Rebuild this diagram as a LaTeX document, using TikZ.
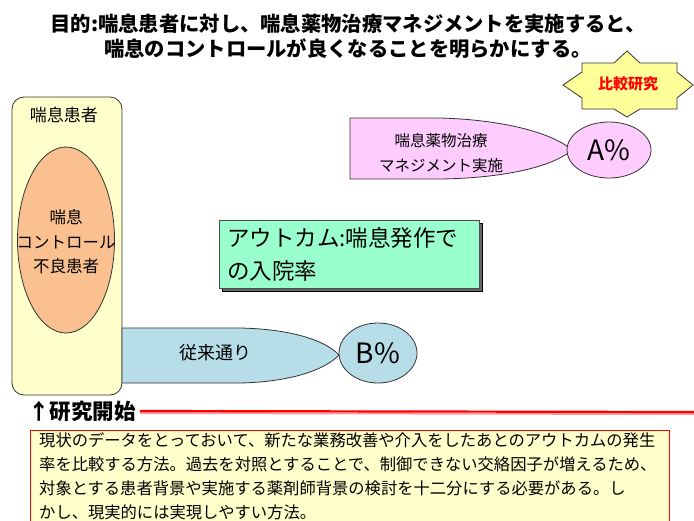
\documentclass[tikz,border=0pt]{standalone}
\usepackage{fontspec}
\setmainfont{Noto Sans CJK JP}
\usetikzlibrary{shapes.geometric}
\definecolor{pinkf}{RGB}{255,204,255}
\definecolor{bluef}{RGB}{183,222,232}
\definecolor{greenf}{RGB}{153,255,204}
\definecolor{orangef}{RGB}{250,192,143}
\definecolor{yellowf}{RGB}{255,255,204}
\definecolor{starf}{RGB}{255,255,153}
\definecolor{redl}{RGB}{255,0,0}
\tikzset{
  txt/.style={inner sep=0pt, align=center, text=black},
  outl/.style={draw=black!80, line width=0.8pt},
}
\begin{document}
\begin{tikzpicture}[x=1pt,y=-1pt]
\useasboundingbox[fill=white] (0,0) rectangle (694,520);
% title
\node[txt, font=\fontsize{20.3}{25}\selectfont\bfseries] (title) at (348,36)
  {目的:喘息患者に対し、喘息薬物治療マネジメントを実施すると、\\喘息のコントロールが良くなることを明らかにする。};
% yellow patients box
\draw[outl, fill=yellowf, rounded corners=12pt] (12,97) rectangle (122,395);
\node[txt, font=\fontsize{17}{18}\selectfont] (pt) at (64,115) {喘息患者};
% orange ellipse
\node[ellipse, outl, fill=orangef, minimum width=97pt, minimum height=186pt, inner sep=0pt] (poor) at (66,240) {};
\node[txt, font=\fontsize{16.5}{24.5}\selectfont] (poort) at (66,242) {喘息\\コントロール\\不良患者};
% pink teardrop
\draw[outl, fill=pinkf] (350,118) -- (440,118) .. controls (510,120) and (555,135) .. (572,150)
  .. controls (555,165) and (510,178) .. (440,179) -- (350,179) -- cycle;
\node[txt, font=\fontsize{15.5}{25}\selectfont] (pinkt) at (441,153) {喘息薬物治療\\マネジメント実施};
% A% ellipse
\node[ellipse, outl, fill=pinkf, minimum width=84pt, minimum height=56pt, inner sep=0pt,
  font=\fontsize{28}{30}\selectfont] (A) at (609,150) {A\%};
% star
\draw[outl, fill=starf]
  (582,63) -- (614,63) -- (627,51) -- (640,63) -- (677,63) -- (677,72) -- (693,85) -- (677,98)
  -- (677,109) -- (640,109) -- (627,117) -- (614,109) -- (582,109) -- (582,98) -- (563,85) -- (582,72) -- cycle;
\node[txt, text=redl, font=\fontsize{15}{16}\selectfont\bfseries] (cmp) at (628,84) {比較研究};
% green box
\draw[fill=black!60] (222,223) rectangle (482,291);
\draw[draw=black!70, line width=0.6pt, fill=greenf] (219,220) rectangle (479,288);
\node[anchor=north west, inner sep=0pt, align=left, font=\fontsize{22.5}{33}\selectfont] (out) at (227,227)
  {アウトカム:喘息発作で\\の入院率};
% blue teardrop
\draw[outl, fill=bluef] (122,328) -- (240,328) .. controls (290,329) and (325,340) .. (339,355)
  .. controls (325,370) and (290,382) .. (240,383) -- (122,383) -- cycle;
\node[txt, font=\fontsize{18}{20}\selectfont] (bt) at (215,353) {従来通り};
% B% ellipse
\node[ellipse, outl, fill=bluef, minimum width=78pt, minimum height=60pt, inner sep=0pt,
  font=\fontsize{28}{30}\selectfont] (B) at (378,353) {B\%};
% research start
\node[anchor=west, inner sep=0pt, font=\fontsize{21.5}{22}\selectfont\bfseries] (start) at (28,411) {↑研究開始};
\coordinate (lend) at (694,412);
\draw[draw=redl!40, line width=2pt] ([yshift=-2pt]start.east) ++(4,0) -- ([yshift=-2pt]lend);
\draw[draw=redl, line width=2.2pt] (start.east) ++(4,0) -- (lend);
% bottom text box
\fill[yellowf] (30,430) rectangle (669,521);
\draw[draw=redl, line width=1pt] (30,522) -- (30,430) -- (669,430) -- (669,522);
\node[anchor=north west, inner sep=0pt, align=left, font=\fontsize{16.3}{24}\selectfont] (desc) at (39,432)
  {現状のデータをとっておいて、新たな業務改善や介入をしたあとのアウトカムの発生\\
   率を比較する方法。過去を対照とすることで、制御できない交絡因子が増えるため、\\
   対象とする患者背景や実施する薬剤師背景の検討を十二分にする必要がある。し\\
   かし、現実的には実現しやすい方法。};
\end{tikzpicture}
\end{document}
